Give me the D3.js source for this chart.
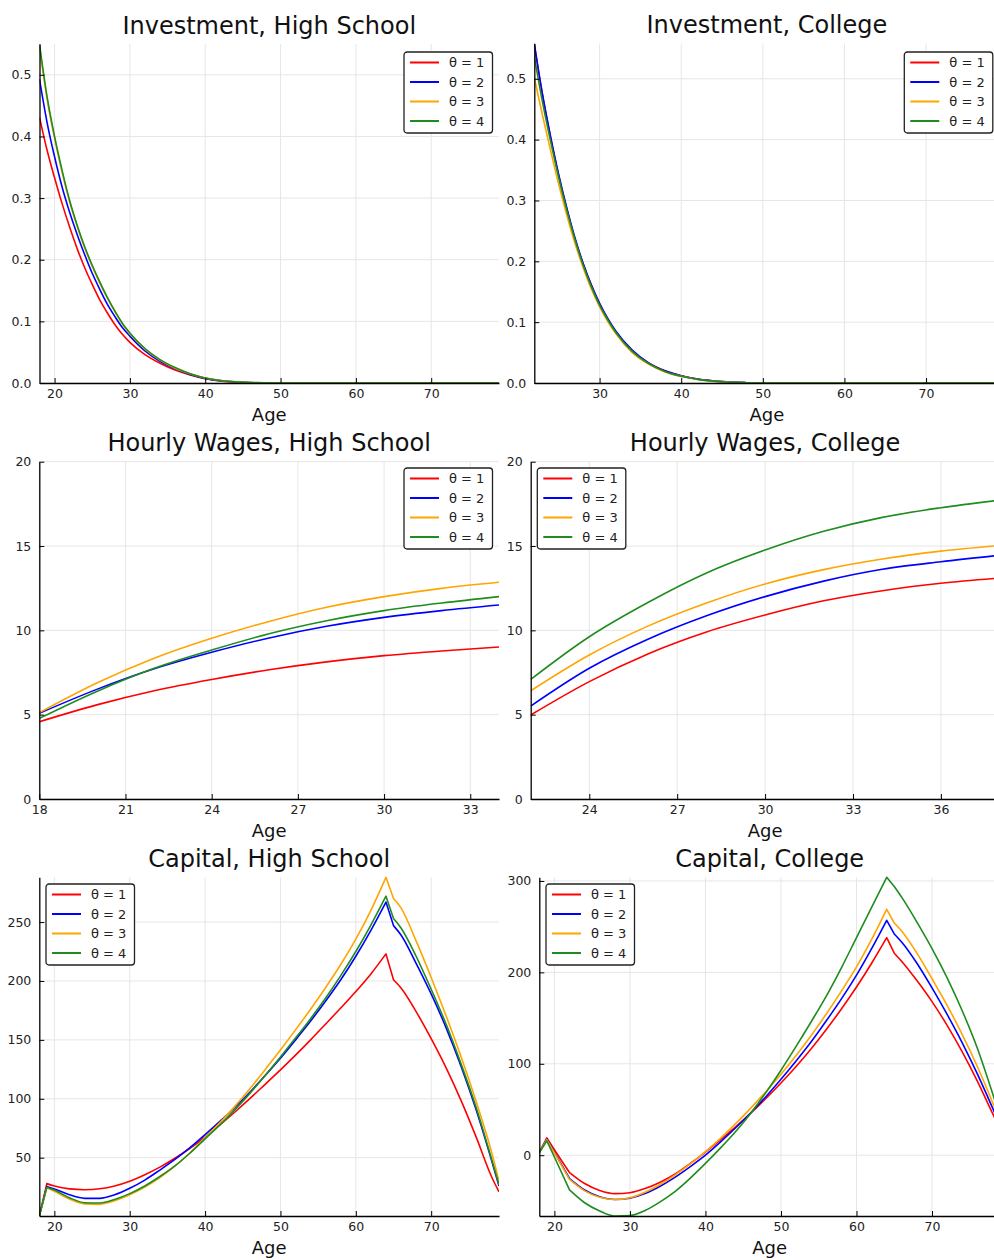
<!DOCTYPE html>
<html>
<head>
<meta charset="utf-8">
<script src="https://cdn.jsdelivr.net/npm/d3@7"></script>
<style>
  body { margin: 0; background: #fff; }
  text { font-family: "DejaVu Sans", sans-serif; }
</style>
</head>
<body>
<script>
// ---- data ----
const seriesNames = ["θ = 1", "θ = 2", "θ = 3", "θ = 4"];

// Investment, High School
const invHsAges = [18,19,20,21,22,23,24,25,26,27,28,29,30,32,34,36,38,40,42,45,48,50,79];
const invHs1 = [0.431,0.378,0.333,0.291,0.253,0.218,0.187,0.16,0.135,0.114,0.095,0.079,0.066,0.046,0.032,0.021,0.013,0.007,0.0035,0.001,0.0002,0,0];
const invHs2 = [0.493,0.423,0.367,0.318,0.277,0.241,0.208,0.178,0.152,0.128,0.108,0.09,0.076,0.052,0.035,0.023,0.014,0.0075,0.0038,0.0011,0.0002,0,0];
const invHs3 = [0.545,0.461,0.397,0.342,0.294,0.254,0.219,0.189,0.162,0.138,0.116,0.096,0.08,0.055,0.037,0.024,0.015,0.008,0.004,0.0012,0.0002,0,0];
const invHs4 = [0.55,0.465,0.4,0.345,0.296,0.256,0.221,0.191,0.164,0.139,0.117,0.097,0.081,0.056,0.038,0.025,0.015,0.008,0.004,0.0012,0.0002,0,0];

// Investment, College
const invCoAges = [22,23,24,25,26,27,28,29,30,31,32,34,36,38,40,42,45,48,50,79];
const invCo1 = [0.556,0.473,0.403,0.34,0.285,0.236,0.195,0.16,0.13,0.105,0.084,0.053,0.033,0.02,0.012,0.0065,0.0022,0.0005,0,0];
const invCo2 = [0.558,0.475,0.405,0.342,0.287,0.238,0.196,0.161,0.131,0.106,0.085,0.054,0.033,0.02,0.012,0.0065,0.0022,0.0005,0,0];
const invCo3 = [0.502,0.44,0.382,0.326,0.275,0.229,0.189,0.154,0.125,0.101,0.081,0.05,0.031,0.018,0.011,0.0058,0.0019,0.0004,0,0];
const invCo4 = [0.537,0.462,0.397,0.337,0.283,0.235,0.193,0.158,0.128,0.104,0.083,0.052,0.032,0.019,0.011,0.006,0.002,0.0005,0,0];

// Hourly Wages, High School
const wageHsAges = [18,20,22,24,26,28,30,32,34];
const wageHs1 = [4.58,5.58,6.42,7.09,7.66,8.13,8.5,8.78,9.01];
const wageHs2 = [5.08,6.5,7.72,8.7,9.55,10.24,10.77,11.17,11.5];
const wageHs3 = [5.12,6.88,8.35,9.53,10.53,11.37,12.0,12.49,12.85];
const wageHs4 = [4.78,6.38,7.75,8.83,9.8,10.57,11.17,11.62,12.0];

// Hourly Wages, College
const wageCoAges = [22,24,26,28,30,32,34,36,38];
const wageCo1 = [4.98,6.96,8.6,9.9,10.91,11.75,12.35,12.79,13.1];
const wageCo2 = [5.51,7.75,9.47,10.86,12.0,12.92,13.62,14.07,14.45];
const wageCo3 = [6.42,8.54,10.25,11.62,12.75,13.6,14.23,14.7,15.03];
const wageCo4 = [7.09,9.62,11.65,13.4,14.76,15.87,16.7,17.27,17.72];

// Capital (both schooling levels)
const capAges = [18,19,20,22,24,26,28,30,32,34,36,38,40,42,44,46,48,50,52,54,56,58,60,62,64,65,66,68,70,72,74,76,78,79];
const capHs1 = [0.5,28,26,23.5,22.8,23.6,26,30,35.5,42,49.5,58,67.5,78,89,100.5,112.5,124.5,137,150,163.5,177,191,206,223,201,194,174,151,126,98,67,34,21];
const capHs2 = [0.5,25.6,23.5,18.5,15.5,15.5,18.5,24,31,39.5,48.5,58.5,69.5,81,93,106,120,134.5,150,166,183,201,221,243,267,247,239,215,189,160,127,90,48,26];
const capHs3 = [0.5,24.5,21.5,15,10.8,10.4,13.5,18.5,25,33,43,54,67,80,94,109,125,141.5,158.5,176,194.5,214,235.5,260,288,270,262,234,203,170,135,97,55,30];
const capHs4 = [0.5,25,22.5,16,11.8,11.5,14.5,19.5,26,34,43,54,66,78,91,105,120,135.5,151.5,168,185.5,204.5,225,247.5,272,253,245,221,193,163,129,92,49,27];
const capCo1 = [3,19,6,-19,-31,-38.5,-42,-41,-36.5,-29.5,-20.5,-9,3.5,17,31,46,62,79,97,116.5,137.5,160,184,210,238,221,212,191,168,142,113,81,46,29];
const capCo2 = [3,17.5,3,-25.5,-38,-45.5,-48.5,-47,-42,-34,-24,-12.5,0,14.5,30,46.5,64,83,103,124,147,171,197,226,257,242,233,210,183,154,123,89,52,33];
const capCo3 = [3,17,2.5,-26.5,-39,-46,-48.5,-46.5,-40.5,-32,-21.5,-9.5,4,18.5,34.5,51.5,69.5,88.5,109,131,154.5,179.5,206,236,269,254,245,221,193,164,132,97,58,37];
const capCo4 = [3,15.7,-2,-38,-52,-61,-66.5,-66,-60.5,-51,-39.5,-25,-9,8,26,46,68.5,93,119,146,174,205,238,271,304,294,282,255,226,194,158,117,68,42];

// ages where the capital paths have a corner
const capHsKinks = [19,64,65];
const capCoKinks = [19,22,64,65];

// tick values
const ageTicks10 = [20,30,40,50,60,70];
const ageTicksHs = [18,21,24,27,30,33];
const ageTicksCo = [24,27,30,33,36];
const invTicks = [0,0.1,0.2,0.3,0.4,0.5];
const wageTicks = [0,5,10,15,20];
const capHsTicks = [50,100,150,200,250];
const capCoTicks = [0,100,200,300];

// ---- layout ----
const colors = ["red","blue","orange","#1e8c1e"];

const panels = [
  {title:"Investment, High School", ages:invHsAges, vals:[invHs1,invHs2,invHs3,invHs4],
   xDom:[18,79], xTicks:ageTicks10, yTicks:invTicks, yFmt:d3.format(".1f"),
   box:[39.5,499,44,383], legend:[404,52], kinks:[]},
  {title:"Investment, College", ages:invCoAges, vals:[invCo1,invCo2,invCo3,invCo4],
   xDom:[22,79], xTicks:ageTicks10, yTicks:invTicks, yFmt:d3.format(".1f"),
   box:[534.3,999.5,43.5,383], legend:[904.3,52], kinks:[]},
  {title:"Hourly Wages, High School", ages:wageHsAges, vals:[wageHs1,wageHs2,wageHs3,wageHs4],
   xDom:[18,34], xTicks:ageTicksHs, yTicks:wageTicks, yFmt:d3.format("d"), yDom:[0,20],
   box:[39.3,499,461.7,799], legend:[404,468], kinks:[]},
  {title:"Hourly Wages, College", ages:wageCoAges, vals:[wageCo1,wageCo2,wageCo3,wageCo4],
   xDom:[22,38], xTicks:ageTicksCo, yTicks:wageTicks, yFmt:d3.format("d"), yDom:[0,20],
   box:[530.7,999.5,461.7,799], legend:[537.3,468], kinks:[]},
  {title:"Capital, High School", ages:capAges, vals:[capHs1,capHs2,capHs3,capHs4],
   xDom:[18,79], xTicks:ageTicks10, yTicks:capHsTicks, yFmt:d3.format("d"),
   box:[39.3,499,877.3,1216], legend:[46,884], kinks:capHsKinks},
  {title:"Capital, College", ages:capAges, vals:[capCo1,capCo2,capCo3,capCo4],
   xDom:[18,79], xTicks:ageTicks10, yTicks:capCoTicks, yFmt:d3.format("d"),
   box:[539.3,1000,877.3,1216], legend:[546,884], kinks:capCoKinks}
];

const svg = d3.select("body").append("svg")
  .attr("width",994).attr("height",1260)
  .style("display","block");

svg.append("rect").attr("width",994).attr("height",1260).attr("fill","#fff");

panels.forEach((p,i)=>{
  const [left,right,top,bottom] = p.box;
  const x = d3.scaleLinear().domain(p.xDom).range([left,right]);
  const yDom = p.yDom || d3.extent(p.vals.flat());
  const y = d3.scaleLinear().domain(yDom).range([bottom,top]);
  const xTicks = p.xTicks.filter(t=>t>=p.xDom[0] && t<=p.xDom[1]);

  const g = svg.append("g");

  // grid
  g.selectAll(".gx").data(xTicks).enter().append("line")
    .attr("x1",d=>x(d)).attr("x2",d=>x(d)).attr("y1",top).attr("y2",bottom)
    .attr("stroke","#e6e6e6").attr("stroke-width",1);
  g.selectAll(".gy").data(p.yTicks).enter().append("line")
    .attr("x1",left).attr("x2",right).attr("y1",d=>y(d)).attr("y2",d=>y(d))
    .attr("stroke","#e6e6e6").attr("stroke-width",1);

  // lines: smooth between corners, sharp at the corners
  const clipId = "clip"+i;
  svg.append("clipPath").attr("id",clipId).append("rect")
    .attr("x",left).attr("y",top-2).attr("width",right-left).attr("height",bottom-top+2);

  const line = d3.line()
    .x(d=>x(d[0]))
    .y(d=>y(d[1]))
    .curve(d3.curveMonotoneX);

  const pathFor = vals=>{
    const pts = p.ages.map((a,j)=>[a,vals[j]]);
    const cuts = [p.ages[0], ...p.kinks, p.ages[p.ages.length-1]];
    let dstr = "";
    for(let k=0;k<cuts.length-1;k++){
      const seg = pts.filter(q=>q[0]>=cuts[k] && q[0]<=cuts[k+1]);
      const s = line(seg);
      dstr += k===0 ? s : "L" + s.slice(1);
    }
    return dstr;
  };

  g.append("g").attr("clip-path","url(#"+clipId+")")
    .selectAll("path").data(p.vals).enter().append("path")
    .attr("d",d=>pathFor(d))
    .attr("fill","none")
    .attr("stroke",(d,j)=>colors[j])
    .attr("stroke-width",1.6)
    .attr("stroke-linejoin","round");

  // axes, ticks pointing inward
  const xAxis = g.append("g").attr("transform","translate(0,"+bottom+")")
    .call(d3.axisBottom(x).tickValues(xTicks).tickFormat(d3.format("d"))
      .tickSize(-5).tickSizeOuter(0).tickPadding(6));
  const yAxis = g.append("g").attr("transform","translate("+left+",0)")
    .call(d3.axisLeft(y).tickValues(p.yTicks).tickFormat(p.yFmt)
      .tickSize(-5).tickSizeOuter(0).tickPadding(8));

  [xAxis,yAxis].forEach(a=>{
    a.select(".domain").attr("stroke","#000").attr("stroke-width",1.3);
    a.selectAll(".tick line").attr("stroke","#000").attr("stroke-width",1);
    a.selectAll(".tick text").attr("fill","#222")
      .style("font-family","DejaVu Sans, sans-serif").style("font-size","12.5px");
  });

  // title and axis label
  g.append("text")
    .attr("x",(left+right)/2).attr("y",top-10.5)
    .attr("text-anchor","middle")
    .attr("fill","#111")
    .style("font-size","24px")
    .text(p.title);

  g.append("text")
    .attr("x",(left+right)/2).attr("y",bottom+38)
    .attr("text-anchor","middle")
    .attr("fill","#111")
    .style("font-size","18px")
    .text("Age");

  // legend
  const [lx,ly] = p.legend;
  const lg = g.append("g").attr("transform","translate("+lx+","+ly+")");
  lg.append("rect")
    .attr("width",88.5).attr("height",81)
    .attr("rx",3).attr("ry",3)
    .attr("fill","#fff").attr("stroke","#222").attr("stroke-width",1.3);

  const rows = lg.selectAll(".row").data(seriesNames).enter().append("g")
    .attr("transform",(d,j)=>"translate(0,"+(10.5+j*19.5)+")");
  rows.append("line")
    .attr("x1",6).attr("x2",35).attr("y1",0).attr("y2",0)
    .attr("stroke",(d,j)=>colors[j]).attr("stroke-width",2);
  rows.append("text")
    .attr("x",45).attr("y",0).attr("dy","0.36em")
    .attr("fill","#222")
    .style("font-size","13px")
    .text(d=>d);
});
</script>
</body>
</html>
